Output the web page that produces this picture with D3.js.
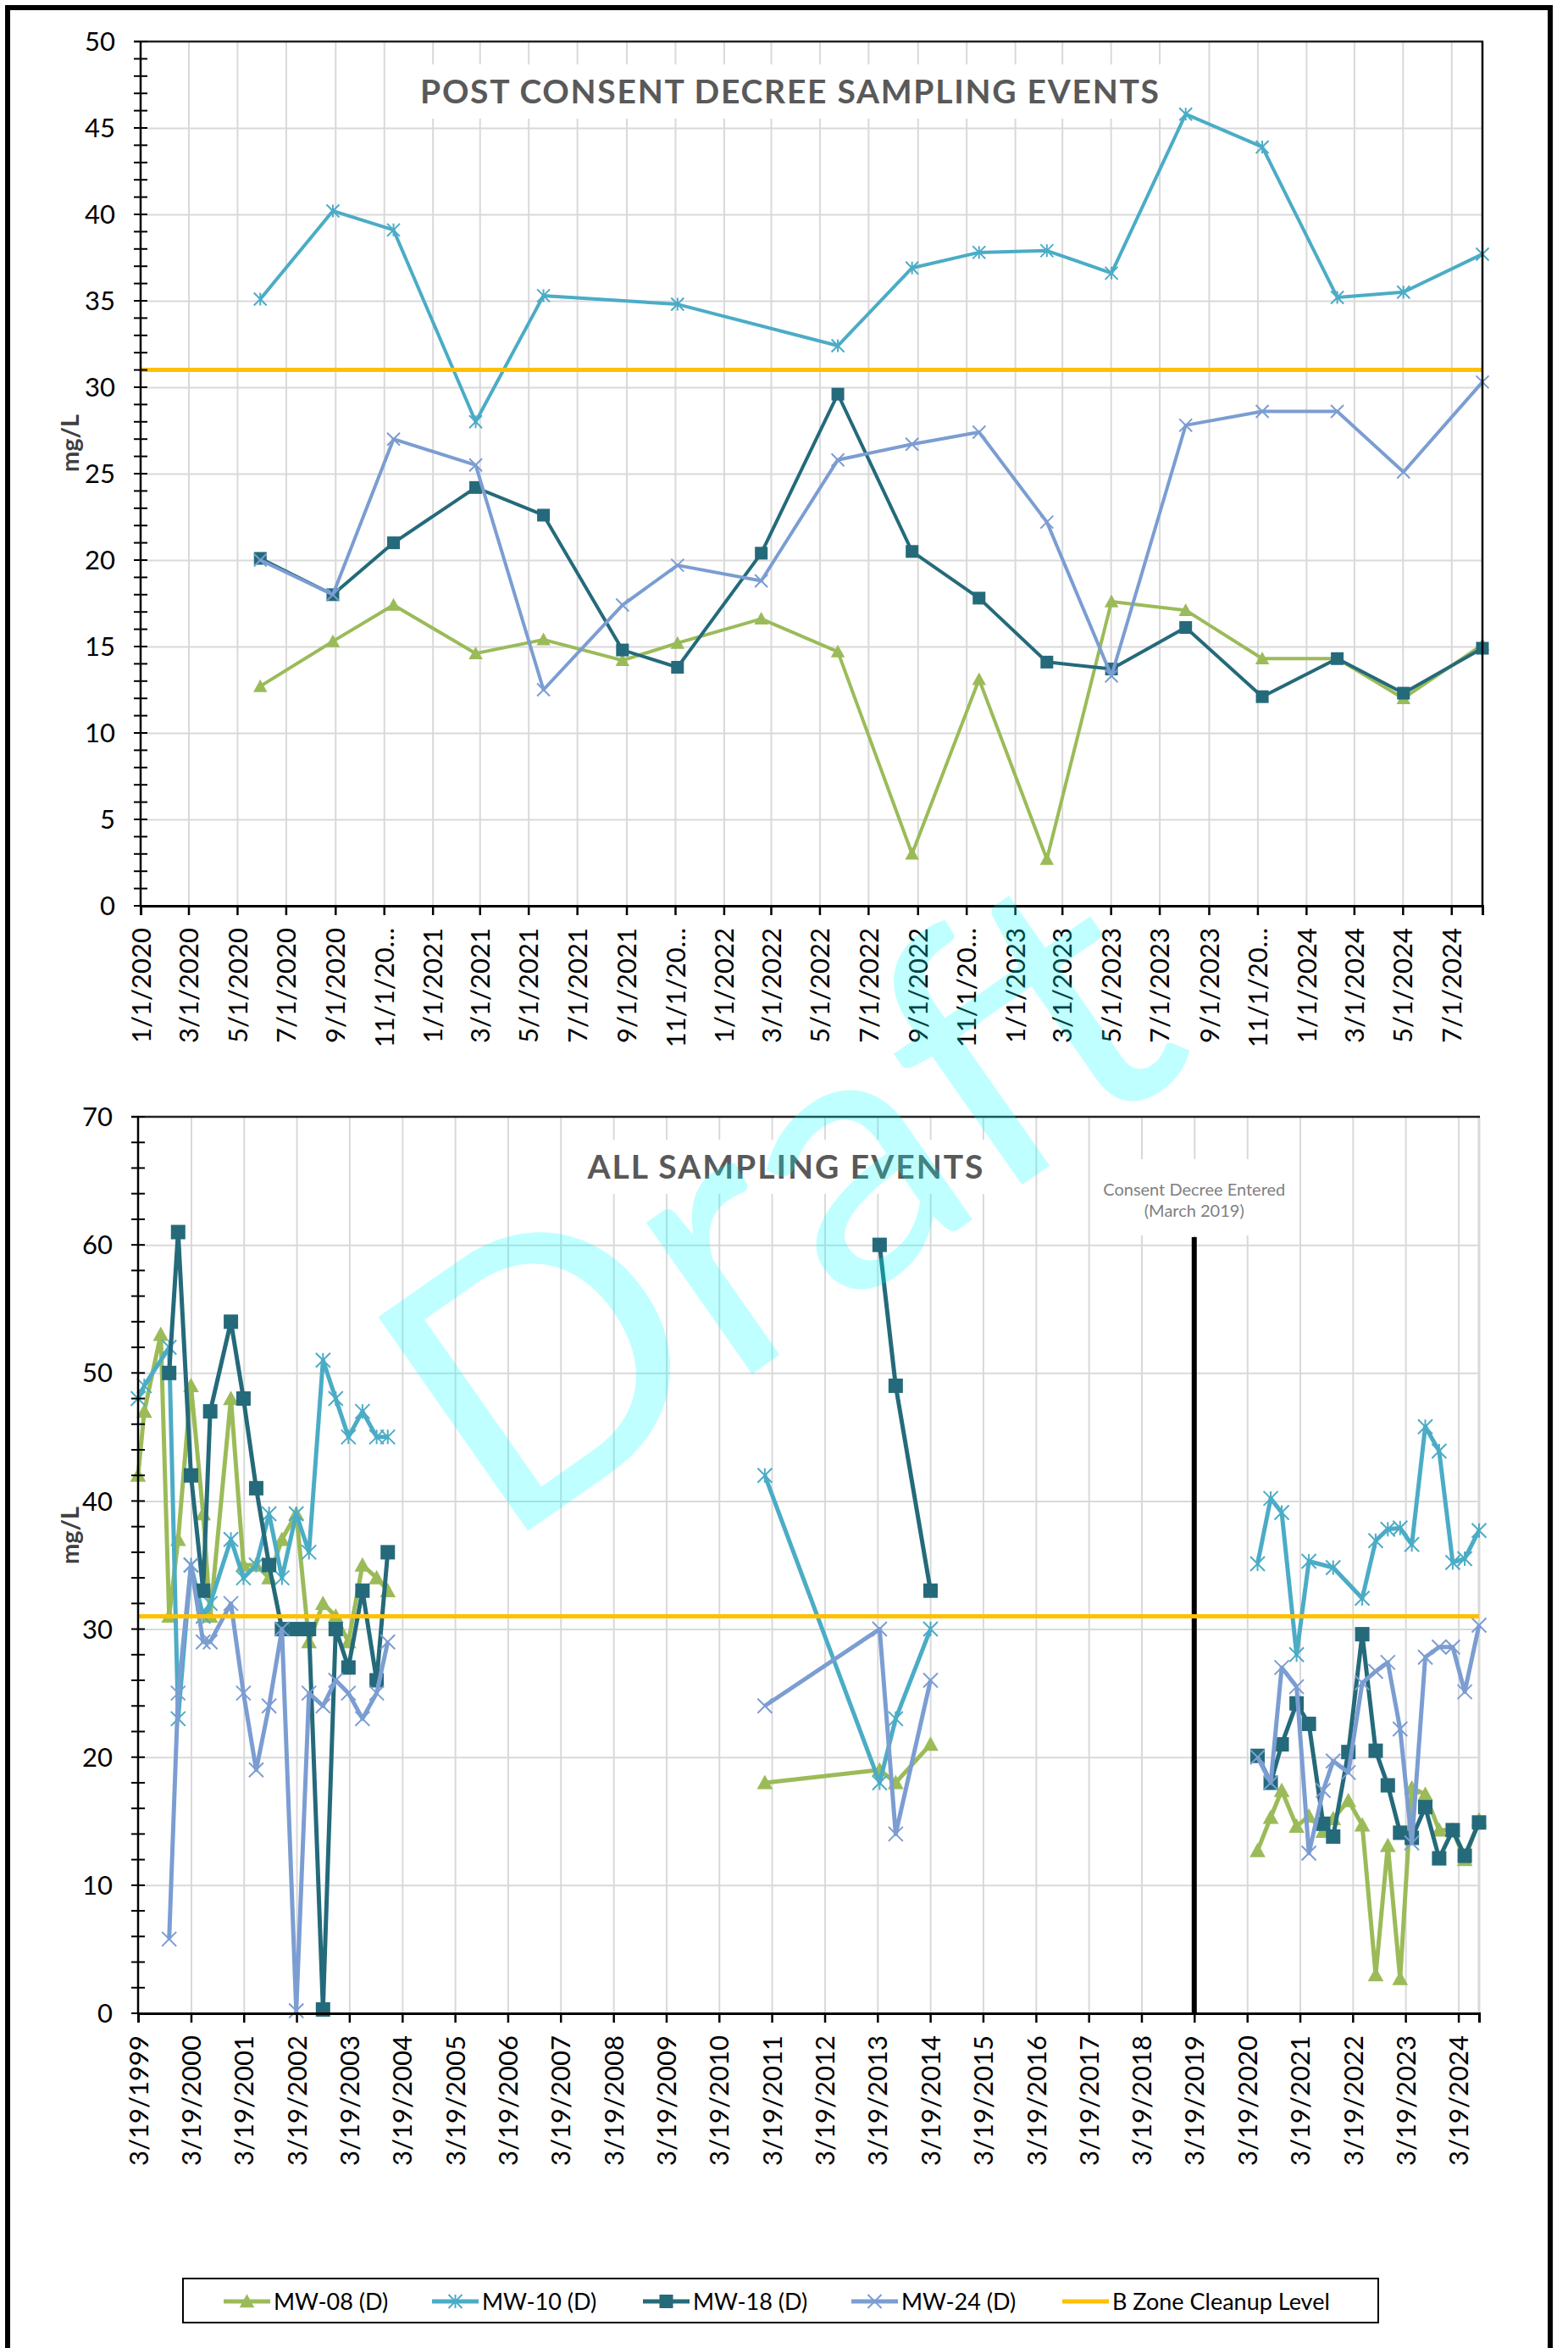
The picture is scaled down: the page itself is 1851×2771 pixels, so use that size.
<!DOCTYPE html>
<html>
<head>
<meta charset="utf-8">
<script src="https://cdn.jsdelivr.net/npm/d3@7"></script>
<style>
  body { margin: 0; background: #fff; }
  svg text { font-family: Lato, "Open Sans", sans-serif; }
</style>
</head>
<body>
<svg id="chart" width="1851" height="2771"></svg>
<script>
// ---- data: post consent decree events (2020-2024) ----
const recentDates = ["2020-05-30","2020-08-29","2020-11-13","2021-02-24","2021-05-20","2021-08-27",
  "2021-11-04","2022-02-17","2022-05-24","2022-08-25","2022-11-17","2023-02-10","2023-05-02",
  "2023-08-03","2023-11-07","2024-02-09","2024-05-02","2024-08-09"];
const recentMW08 = [12.7,15.3,17.4,14.6,15.4,14.2,15.2,16.6,14.7,3.0,13.1,2.7,17.6,17.1,14.3,14.3,12.0,15.1];
const recentMW10 = [35.1,40.2,39.1,28.0,35.3,null,34.8,null,32.4,36.9,37.8,37.9,36.6,45.8,43.9,35.2,35.5,37.7];
const recentMW18 = [20.1,18.0,21.0,24.2,22.6,14.8,13.8,20.4,29.6,20.5,17.8,14.1,13.7,16.1,12.1,14.3,12.3,14.9];
const recentMW24 = [20.0,18.0,27.0,25.5,12.5,17.4,19.7,18.8,25.8,26.7,27.4,22.2,13.3,27.8,28.6,28.6,25.1,30.3];

// ---- data: early events (1999-2003) ----
const earlyDates = ["1999-03-19","1999-05-01","1999-08-23","1999-10-20","1999-12-21","2000-03-19",
  "2000-06-11","2000-07-30","2000-12-20","2001-03-17","2001-06-13","2001-09-10","2001-12-08",
  "2002-03-17","2002-06-13","2002-09-18","2002-12-15","2003-03-13","2003-06-18","2003-09-24","2003-12-10"];
const earlyMW08 = [42,47,53,31,37,49,39,31,48,35,35,34,37,39,29,32,31,29,35,34,33];
const earlyMW10 = [48,49,null,52,23,35,31,32,37,34,35,39,34,39,36,51,48,45,47,45,45];
const earlyMW18 = [null,null,null,50,61,42,33,47,54,48,41,35,30,30,30,0.3,30,27,33,26,36];
const earlyMW24 = [null,null,null,5.8,25,35,29,29,32,25,19,24,30,0.2,25,24,26,25,23,25,29];

// ---- data: 2011-2014 events ----
const midDates = ["2011-01-30","2013-04-03","2013-07-23","2014-03-21"];
const midMW08 = [18,19,18,21];
const midMW10 = [42,18,23,30];
const midMW18 = [null,60,49,33];
const midMW24 = [24,30,14,26];

const cleanupLevel = 31;
const consentDate = "2019-03-19";
const seriesNames = ["MW-08 (D)", "MW-10 (D)", "MW-18 (D)", "MW-24 (D)", "B Zone Cleanup Level"];

// ---- styles ----
const seriesStyle = [
  { key: "mw08", color: "#9bbb59", mark: "tri" },
  { key: "mw10", color: "#4bacc6", mark: "star" },
  { key: "mw18", color: "#246a7a", mark: "sq" },
  { key: "mw24", color: "#7b9dd2", mark: "x" }
];
const cleanupColor = "#ffc000";
const gridColor = "#d9d9d9";

const parse = d3.timeParse("%Y-%m-%d");
const svg = d3.select("#chart");

const recentSeg = { dates: recentDates, mw08: recentMW08, mw10: recentMW10, mw18: recentMW18, mw24: recentMW24 };
const earlySeg  = { dates: earlyDates,  mw08: earlyMW08,  mw10: earlyMW10,  mw18: earlyMW18,  mw24: earlyMW24 };
const midSeg    = { dates: midDates,    mw08: midMW08,    mw10: midMW10,    mw18: midMW18,    mw24: midMW24 };

function drawMarker(sel, type, color, s) {
  const h = s / 2;
  if (type === "tri") {
    sel.append("path").attr("d", `M0,${-s*0.55}L${s*0.55},${s*0.45}L${-s*0.55},${s*0.45}Z`).attr("fill", color);
  } else if (type === "sq") {
    sel.append("rect").attr("x", -h).attr("y", -h).attr("width", s).attr("height", s).attr("fill", color);
  } else {
    let d = `M${-h},${-h}L${h},${h}M${-h},${h}L${h},${-h}`;
    if (type === "star") d += `M0,${-h}V${h}`;
    sel.append("path").attr("d", d).attr("stroke", color).attr("stroke-width", 2).attr("fill", "none");
  }
}

function panel(o) {
  const x = d3.scaleTime().domain(o.xDomain).range([o.left, o.right]);
  const y = d3.scaleLinear().domain([0, o.yMax]).range([o.bottom, o.top]);
  const g = svg.append("g");

  // gridlines
  g.append("g")
    .attr("transform", `translate(${o.left},0)`)
    .call(d3.axisLeft(y).tickValues(d3.range(o.yMajor, o.yMax, o.yMajor)).tickSize(-(o.right - o.left)).tickFormat(""))
    .call(a => a.select(".domain").remove())
    .selectAll("line").attr("stroke", gridColor).attr("stroke-width", 2);
  g.append("g")
    .attr("transform", `translate(0,${o.top})`)
    .call(d3.axisBottom(x).tickValues(o.xTicks.slice(1)).tickSize(o.bottom - o.top).tickFormat(""))
    .call(a => a.select(".domain").remove())
    .selectAll("line").attr("stroke", gridColor).attr("stroke-width", 2);
  if (o.rightGray) {
    g.append("line").attr("x1", o.right).attr("x2", o.right).attr("y1", o.top).attr("y2", o.bottom)
      .attr("stroke", gridColor).attr("stroke-width", 3);
  }

  // title with white box
  g.append("rect").attr("x", o.titleX - o.titleW / 2 - 14).attr("y", o.titleY - 32)
    .attr("width", o.titleW + 28).attr("height", 64).attr("fill", "#fff");
  g.append("text").attr("x", o.titleX - o.titleW / 2).attr("y", o.titleY).attr("dy", "0.36em")
    .attr("textLength", o.titleW).attr("lengthAdjust", "spacing")
    .style("font-size", "39px").style("font-weight", "bold").attr("fill", "#595959")
    .text(o.title);

  if (o.extra) o.extra(g, x, y);

  // series
  seriesStyle.forEach(s => {
    o.segments.forEach(seg => {
      const pts = seg.dates.map((d, i) => ({ date: parse(d), v: seg[s.key][i] })).filter(p => p.v != null);
      g.append("path").datum(pts)
        .attr("fill", "none").attr("stroke", s.color).attr("stroke-width", o.lineW)
        .attr("stroke-linejoin", "round")
        .attr("d", d3.line().x(p => x(p.date)).y(p => y(p.v)));
      g.selectAll(null).data(pts).enter().append("g")
        .attr("transform", p => `translate(${x(p.date)},${y(p.v)})`)
        .each(function () { drawMarker(d3.select(this), s.mark, s.color, o.markS); });
    });
  });

  // cleanup level
  g.append("line").attr("x1", o.left).attr("x2", o.right).attr("y1", y(cleanupLevel)).attr("y2", y(cleanupLevel))
    .attr("stroke", cleanupColor).attr("stroke-width", 5);

  // plot borders
  g.append("line").attr("x1", o.left - 8).attr("x2", o.right + 1).attr("y1", o.top).attr("y2", o.top)
    .attr("stroke", "#222").attr("stroke-width", 2.5);
  if (!o.rightGray) {
    g.append("line").attr("x1", o.right).attr("x2", o.right).attr("y1", o.top).attr("y2", o.bottom)
      .attr("stroke", "#000").attr("stroke-width", 2.5);
  }

  // y axis: crossing ticks
  const yTicks = d3.range(0, o.yMax + 0.001, o.yMinor);
  g.append("line").attr("x1", o.left).attr("x2", o.left).attr("y1", o.top).attr("y2", o.bottom)
    .attr("stroke", "#000").attr("stroke-width", 2.5);
  g.selectAll(null).data(yTicks).enter().append("line")
    .attr("x1", o.left - 8).attr("x2", o.left + 8).attr("y1", d => y(d)).attr("y2", d => y(d))
    .attr("stroke", "#000").attr("stroke-width", 2);
  g.selectAll(null).data(d3.range(0, o.yMax + 0.001, o.yMajor)).enter().append("text")
    .attr("x", o.left - 30).attr("y", d => y(d)).attr("dy", "0.36em").attr("text-anchor", "end")
    .style("font-size", "31px").attr("fill", "#000").text(d => d);

  // x axis
  g.append("g")
    .attr("transform", `translate(0,${o.bottom})`)
    .call(d3.axisBottom(x).tickValues(o.xTicks).tickSize(11).tickFormat(o.xFormat).tickPadding(0))
    .call(a => a.select(".domain").attr("stroke", "#000").attr("stroke-width", 3))
    .call(a => a.selectAll(".tick line").attr("stroke", "#000").attr("stroke-width", 2.5))
    .call(a => a.selectAll(".tick text")
      .attr("transform", "translate(0,26) rotate(-90)").attr("x", 0).attr("y", 0).attr("dy", "0.36em")
      .attr("text-anchor", "end").attr("fill", "#000")
      .style("font-size", "31px").style("font-family", "Lato, 'Open Sans', sans-serif"));

  // y label
  g.append("text").attr("transform", `translate(83,${o.yLabelY}) rotate(-90)`).attr("dy", "0.36em")
    .attr("text-anchor", "middle").style("font-size", "29px").style("font-weight", "bold")
    .attr("fill", "#404040").text("mg/L");
  return { x, y };
}

// outer frame
svg.append("path").attr("d", "M9,2790V9H1830V2790").attr("fill", "none").attr("stroke", "#000").attr("stroke-width", 6);

// top panel
panel({
  left: 166, right: 1750, top: 49, bottom: 1069, yMax: 50, yMajor: 5, yMinor: 1,
  xDomain: [parse("2020-01-01"), parse(recentDates[recentDates.length - 1])],
  xTicks: d3.timeMonth.every(2).range(new Date(2020, 0, 1), new Date(2024, 7, 2)),
  xFormat: d => {
    const s = `${d.getMonth() + 1}/${d.getDate()}/${d.getFullYear()}`;
    return s.length > 8 ? s.slice(0, 7) + "\u2026" : s;
  },
  segments: [recentSeg], lineW: 4, markS: 15,
  title: "POST CONSENT DECREE SAMPLING EVENTS", titleX: 932, titleY: 108, titleW: 872,
  yLabelY: 523
});

// bottom panel
panel({
  left: 163, right: 1746, top: 1318, bottom: 2376, yMax: 70, yMajor: 10, yMinor: 2,
  xDomain: [parse(earlyDates[0]), parse(recentDates[recentDates.length - 1])],
  xTicks: d3.range(1999, 2025).map(yr => new Date(yr, 2, 19)),
  xFormat: d3.timeFormat("%-m/%-d/%Y"),
  segments: [earlySeg, midSeg, recentSeg], lineW: 5, markS: 17, rightGray: true,
  title: "ALL SAMPLING EVENTS", titleX: 927, titleY: 1377, titleW: 467,
  yLabelY: 1812,
  extra: (g, x, y) => {
    const cx = x(parse(consentDate));
    g.append("rect").attr("x", cx - 115).attr("y", 1368).attr("width", 232).attr("height", 90).attr("fill", "#fff");
    g.append("text").attr("x", cx).attr("y", 1404).attr("dy", "0.36em").attr("text-anchor", "middle")
      .style("font-size", "20px").attr("fill", "#7f7f7f").text("Consent Decree Entered");
    g.append("text").attr("x", cx).attr("y", 1429).attr("dy", "0.36em").attr("text-anchor", "middle")
      .style("font-size", "20px").attr("fill", "#7f7f7f").text("(March 2019)");
    g.append("line").attr("x1", cx).attr("x2", cx).attr("y1", 1460).attr("y2", y(0))
      .attr("stroke", "#000").attr("stroke-width", 6);
  }
});

// legend
const legendX = [264, 510, 759, 1005, 1254];
const lg = svg.append("g");
lg.append("rect").attr("x", 216).attr("y", 2689).attr("width", 1411).attr("height", 52)
  .attr("fill", "#fff").attr("stroke", "#000").attr("stroke-width", 2);
seriesNames.forEach((name, i) => {
  const x0 = legendX[i], cy = 2716;
  const st = seriesStyle[i];
  const col = st ? st.color : cleanupColor;
  lg.append("line").attr("x1", x0).attr("x2", x0 + 55).attr("y1", cy).attr("y2", cy)
    .attr("stroke", col).attr("stroke-width", 5);
  if (st) drawMarker(lg.append("g").attr("transform", `translate(${x0 + 27.5},${cy})`), st.mark, st.color, 16);
  lg.append("text").attr("x", x0 + 59).attr("y", cy).attr("dy", "0.36em")
    .style("font-size", "27px").attr("fill", "#000").text(name);
});

// watermark
svg.append("text").attr("transform", "translate(590,1830) rotate(-35)")
  .attr("text-anchor", "start")
  .attr("textLength", 1010).attr("lengthAdjust", "spacingAndGlyphs")
  .style("font-size", "430px").attr("fill", "#00ffff").attr("fill-opacity", 0.25)
  .text("Draft");
</script>
</body>
</html>
